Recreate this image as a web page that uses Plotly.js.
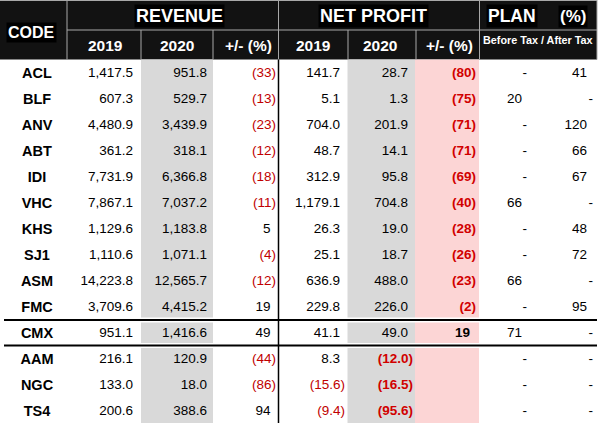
<!DOCTYPE html>
<html>
<head>
<meta charset="utf-8">
<script src="https://cdn.plot.ly/plotly-3.0.1.min.js"></script>
<style>html,body{margin:0;padding:0;background:#fff}#chart{width:600px;height:428px}</style>
</head>
<body>
<div id="chart"></div>
<script>
// ---------- DATA ----------
const codes   = ['ACL','BLF','ANV','ABT','IDI','VHC','KHS','SJ1','ASM','FMC','CMX','AAM','NGC','TS4'];
const rev2019 = [1417.5, 607.3, 4480.9, 361.2, 7731.9, 7867.1, 1129.6, 1110.6, 14223.8, 3709.6, 951.1, 216.1, 133.0, 200.6];
const rev2020 = [951.8, 529.7, 3439.9, 318.1, 6366.8, 7037.2, 1183.8, 1071.1, 12565.7, 4415.2, 1416.6, 120.9, 18.0, 388.6];
const revChg  = [-33, -13, -23, -12, -18, -11, 5, -4, -12, 19, 49, -44, -86, 94];
const np2019  = [141.7, 5.1, 704.0, 48.7, 312.9, 1179.1, 26.3, 25.1, 636.9, 229.8, 41.1, 8.3, -15.6, -9.4];
const np2020  = [28.7, 1.3, 201.9, 14.1, 95.8, 704.8, 19.0, 18.7, 488.0, 226.0, 49.0, -12.0, -16.5, -95.6];
const npChg   = [-80, -75, -71, -71, -69, -40, -28, -26, -23, -2, 19, null, null, null];
const planBeforeTax = [null, 20, null, null, null, 66, null, null, 66, null, 71, null, null, null];
const planAfterTax  = [41, null, 120, 66, 67, null, 48, 72, null, 95, null, null, null, null];
const headerGroups = ['REVENUE', 'NET PROFIT', 'PLAN', '(%)'];
const headerYears  = ['2019', '2020', '+/- (%)'];
const codeHeader = 'CODE';
const planSubHeader = 'Before Tax / After Tax';

// ---------- LAYOUT CONSTANTS ----------
const W = 600, H = 428, ROW0 = 74, STEP = 26;
const FONT = 'Arial, "Liberation Sans", sans-serif';
const RED = '#c00000', BRED = '#d10000';
const py = p => 1 - p / H;

function fmt(v, dec) {
  const s = Math.abs(v).toLocaleString('en-US', {minimumFractionDigits: dec, maximumFractionDigits: dec});
  return v < 0 ? '(' + s + ')' : s;
}

function colTrace(vals, anchor, o) {
  const xs = [], txt = [], cols = [];
  vals.forEach(v => {
    if (v == null) {
      xs.push(anchor + (o.dashShift || 0));
      txt.push(o.dash ? '-' : '');
      cols.push('#000');
    } else if (v < 0) {
      xs.push(anchor);
      const t = fmt(v, o.dec);
      txt.push(o.negBold ? '<b>' + t + '</b>' : t);
      cols.push(o.negBold ? BRED : RED);
    } else {
      xs.push(anchor - (o.shift || 0));
      const t = fmt(v, o.dec);
      txt.push(o.posBold ? '<b>' + t + '</b>' : t);
      cols.push('#000');
    }
  });
  return {
    type: 'scatter', mode: 'text', x: xs, y: codes, text: txt,
    textposition: 'middle left', cliponaxis: false, hoverinfo: 'skip',
    textfont: {family: FONT, size: 13.5, color: cols}
  };
}

const traces = [
  {type: 'scatter', mode: 'text', x: codes.map(() => 37), y: codes,
   text: codes.map(c => '<b>' + c + '</b>'), textposition: 'middle center', cliponaxis: false,
   hoverinfo: 'skip', textfont: {family: FONT, size: 14.5, color: '#000'}},
  colTrace(rev2019, 133, {dec: 1, shift: 0}),
  colTrace(rev2020, 207, {dec: 1, shift: 0}),
  colTrace(revChg, 276, {dec: 0, shift: 5.5}),
  colTrace(np2019, 345, {dec: 1, shift: 5}),
  colTrace(np2020, 413, {dec: 1, shift: 5, negBold: true}),
  colTrace(npChg, 476, {dec: 0, shift: 6, negBold: true, posBold: true}),
  colTrace(planBeforeTax, 522, {dec: 0, dash: true, dashShift: 5}),
  colTrace(planAfterTax, 587, {dec: 0, dash: true, dashShift: 6})
];

// ---------- SHAPES ----------
const shapes = [];
function rect(x0, x1, y0, y1, fill) {
  shapes.push({type: 'rect', xref: 'x', yref: 'paper', x0, x1, y0: py(y1), y1: py(y0),
    fillcolor: fill, line: {width: 0}, layer: 'below'});
}
function line(x0, x1, y0, y1, color, w, layer) {
  shapes.push({type: 'line', xref: 'x', yref: 'paper', x0, x1, y0: py(y0), y1: py(y1),
    line: {color, width: w}, layer: layer || 'above'});
}
// header background
rect(0, 597, 0, 59.5, '#121212');
// shaded columns
rect(141, 213, 59.5, 423, '#d9d9d9');
rect(347.5, 415, 59.5, 423, '#d9d9d9');
rect(415, 479, 59.5, 423, '#fcd5d5');
// header grid lines
const HG = '#a8a8a8';
line(0, 597, 0.5, 0.5, HG, 1);
line(67, 67, 0, 59.5, HG, 1);
line(67, 597, 30, 30, HG, 1);
line(278.5, 278.5, 0, 59.5, HG, 1);
line(479.5, 479.5, 0, 59.5, HG, 1);
[141, 213, 348, 416].forEach(x => line(x, x, 30, 59.5, HG, 1));
line(597, 597, 0, 59.5, HG, 1);
// body lines (white gap + black rule)
line(0, 598, 320, 320, '#ffffff', 5);
line(0, 598, 345.5, 345.5, '#ffffff', 5);
line(278.5, 278.5, 59.5, 423, '#000', 1.5);
line(4, 597, 320, 320, '#000', 2);
line(4, 597, 345.5, 345.5, '#000', 2);

// ---------- HEADER ANNOTATIONS ----------
const ann = [];
function hdr(text, x, y, size, bg) {
  ann.push({text: '<b>' + text + '</b>', x, y: py(y), xref: 'x', yref: 'paper',
    xanchor: 'center', yanchor: 'middle', showarrow: false, borderpad: 1,
    bgcolor: bg || 'rgba(0,0,0,0)', font: {family: FONT, size, color: '#fff'}});
}
hdr(codeHeader, 31, 32, 16, '#000');
hdr(headerGroups[0], 179, 16, 18, '#000');
hdr(headerGroups[1], 373, 16, 18, '#000');
hdr(headerGroups[2], 512, 16, 17.5, '#000');
hdr(headerGroups[3], 573, 16, 17, '#000');
[[105, 177, 248], [313, 380, 449]].forEach(xs => {
  xs.forEach((x, i) => hdr(headerYears[i], x, 45, i === 2 ? 15.5 : 15.5));
});
hdr(planSubHeader, 538, 40, 10.8);

const layout = {
  width: W, height: H, margin: {l: 0, r: 0, t: 0, b: 0, pad: 0},
  paper_bgcolor: '#fff', plot_bgcolor: '#fff', showlegend: false,
  xaxis: {range: [0, W], visible: false, fixedrange: true},
  yaxis: {type: 'category', categoryorder: 'array', categoryarray: codes,
          range: [(H - ROW0) / STEP, -ROW0 / STEP], visible: false, fixedrange: true},
  shapes, annotations: ann
};
Plotly.newPlot('chart', traces, layout, {staticPlot: true, displayModeBar: false});
</script>
</body>
</html>
